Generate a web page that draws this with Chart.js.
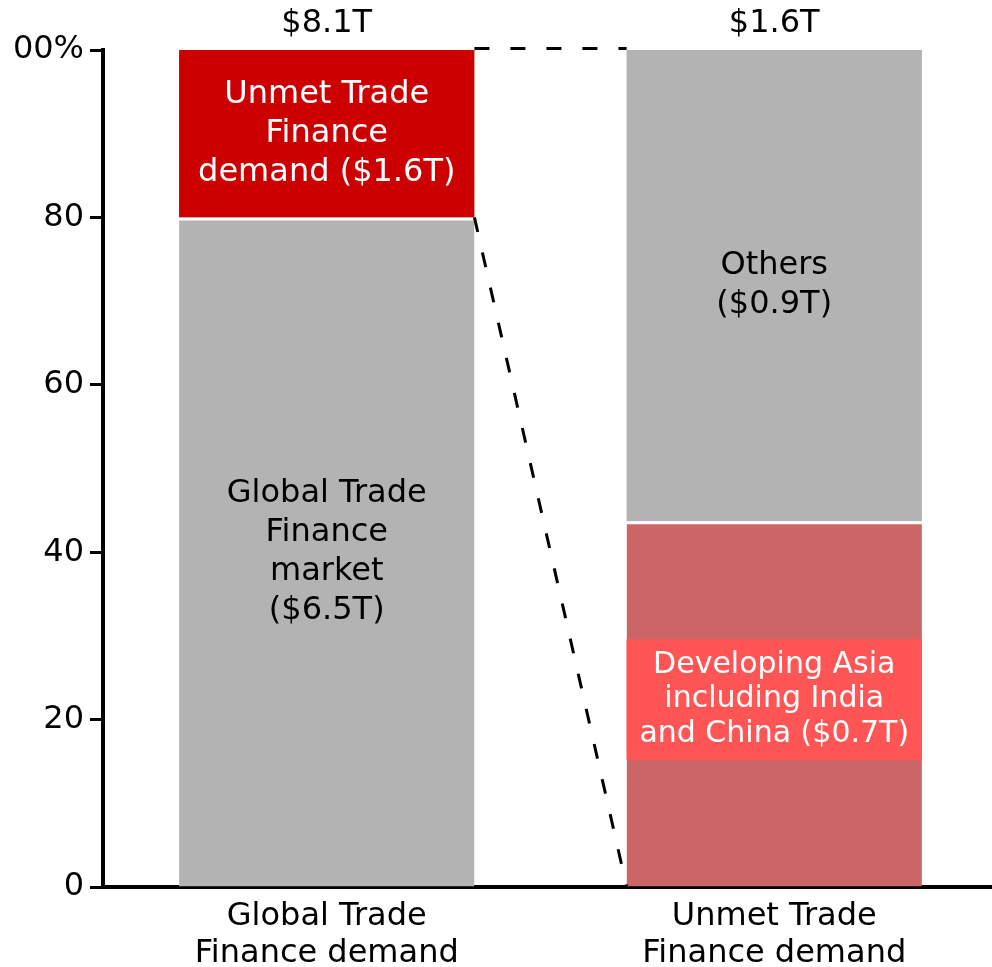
<!DOCTYPE html>
<html>
<head>
<meta charset="utf-8">
<script src="https://cdn.jsdelivr.net/npm/chart.js@4.4.0/dist/chart.umd.min.js"></script>
<style>
    html, body { margin: 0; padding: 0; background: #fff; overflow: hidden; }
    #wrap { width: 998px; height: 967px; }
</style>
</head>
<body>
<div id="wrap"><canvas id="tradeChart" width="998" height="967"></canvas></div>
<script>
// ---- data ----
const categories = [["Global Trade", "Finance demand"], ["Unmet Trade", "Finance demand"]];
const totals = ["$8.1T", "$1.6T"];
const bottomShare = [80, 43.7];
const topShare = [20, 56.3];
const bottomLabels = [["Global Trade", "Finance", "market", "($6.5T)"], []];
const topLabels = [["Unmet Trade", "Finance", "demand ($1.6T)"], ["Others", "($0.9T)"]];
const highlightRange = [15.2, 29.6];
const highlightLines = ["Developing Asia", "including India", "and China ($0.7T)"];

const GRAY = '#b3b3b3';
const RED = '#cc0000';
const LIGHT_RED = '#cc6666';
const BRIGHT_RED = '#ff5555';
const FONT = '"DejaVu Sans", Verdana, sans-serif';

function drawLines(ctx, list, cx, cy, size, gap, color){
    ctx.font = `${size}px ${FONT}`;
    ctx.fillStyle = color;
    ctx.textAlign = 'center';
    ctx.textBaseline = 'middle';
    const start = cy - (list.length - 1) * gap / 2;
    list.forEach((t, i) => ctx.fillText(t, cx, start + i * gap));
}

// overlay: labels, highlight box, dashed connectors
const overlayPlugin = {
    id: 'overlay',
    afterDatasetsDraw(chart){
        const ctx = chart.ctx;
        const y = chart.scales.y;
        const low = chart.getDatasetMeta(0).data;
        const high = chart.getDatasetMeta(1).data;
        ctx.save();

        // highlight box on the right bar
        const rb = low[1];
        const half = rb.width / 2;
        const boxTop = y.getPixelForValue(highlightRange[1]);
        const boxBottom = y.getPixelForValue(highlightRange[0]);
        ctx.fillStyle = BRIGHT_RED;
        ctx.fillRect(rb.x - half, boxTop, rb.width, boxBottom - boxTop);
        drawLines(ctx, highlightLines, rb.x, (boxTop + boxBottom) / 2, 30, 34.5, '#fff');

        // segment labels
        low.forEach((el, i) => {
            drawLines(ctx, bottomLabels[i], el.x, (el.y + el.base) / 2, 32, 39, '#000');
        });
        high.forEach((el, i) => {
            drawLines(ctx, topLabels[i], el.x, (el.y + el.base) / 2, 32, 39, i === 0 ? '#fff' : '#000');
        });

        // totals above bars
        high.forEach((el, i) => {
            drawLines(ctx, [totals[i]], el.x, el.y - 26, 32, 39, '#000');
        });

        // dashed connectors
        const lb = low[0];
        ctx.strokeStyle = '#000';
        ctx.lineWidth = 3;
        ctx.setLineDash([15, 21]);
        ctx.beginPath();
        ctx.moveTo(lb.x + lb.width / 2, high[0].y - 1.5);
        ctx.lineTo(rb.x - half, high[1].y - 1.5);
        ctx.stroke();
        ctx.beginPath();
        ctx.moveTo(lb.x + lb.width / 2, lb.y);
        ctx.lineTo(rb.x - half, rb.base);
        ctx.stroke();

        ctx.restore();
    }
};

const canvas = document.getElementById('tradeChart');

new Chart(canvas.getContext('2d'), {
    type: 'bar',
    data: {
        labels: categories,
        datasets: [
            {
                data: bottomShare,
                backgroundColor: [GRAY, LIGHT_RED],
                borderColor: '#fff',
                borderWidth: { top: 3, left: 0, right: 0, bottom: 0 },
                borderSkipped: false
            },
            {
                data: topShare,
                backgroundColor: [RED, GRAY],
                borderWidth: 0
            }
        ]
    },
    options: {
        responsive: false,
        animation: false,
        layout: { padding: { top: 50, right: 0, left: 0, bottom: 0 } },
        plugins: {
            legend: { display: false },
            tooltip: { enabled: false }
        },
        datasets: {
            bar: { barPercentage: 0.66, categoryPercentage: 1 }
        },
        scales: {
            x: {
                stacked: true,
                afterFit(scale){ scale.height = 80; },
                grid: { display: false, drawTicks: false },
                border: { display: true, color: '#000', width: 4 },
                ticks: {
                    color: '#000',
                    padding: 11,
                    maxRotation: 0,
                    font: { family: FONT, size: 32, lineHeight: 1.16 }
                }
            },
            y: {
                stacked: true,
                min: 0,
                max: 100,
                afterFit(scale){ scale.width = 103; },
                grid: {
                    drawOnChartArea: false,
                    tickLength: 13,
                    tickWidth: 3,
                    tickColor: '#000'
                },
                border: { display: true, color: '#000', width: 4 },
                ticks: {
                    stepSize: 20,
                    color: '#000',
                    padding: 6,
                    font: { family: FONT, size: 32 },
                    callback: v => v === 100 ? '00%' : v
                }
            }
        }
    },
    plugins: [overlayPlugin]
});
</script>
</body>
</html>
